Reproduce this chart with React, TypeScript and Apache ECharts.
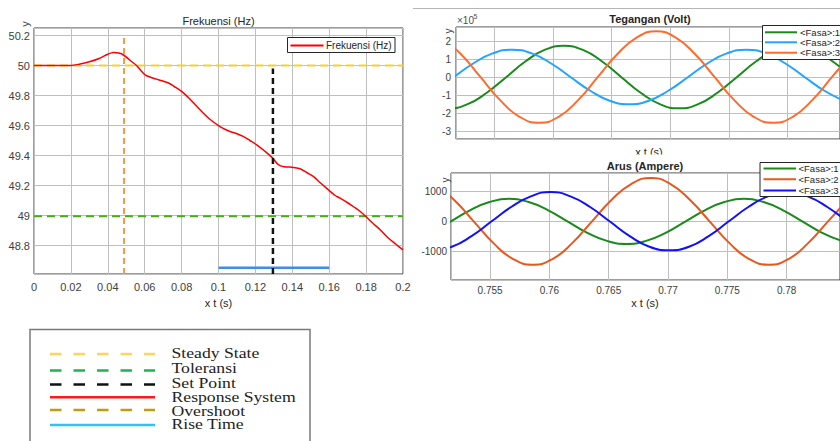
import React, { useEffect, useRef } from "react";
import * as echarts from "echarts";

// ---------- Frekuensi (Hz) ----------
const FREQ_TIME = [0, 0.01, 0.02, 0.025, 0.03, 0.035, 0.04, 0.043, 0.046, 0.0485, 0.052, 0.0556, 0.058, 0.0602, 0.0635, 0.0665, 0.0695, 0.0729, 0.076, 0.08, 0.085, 0.09, 0.095, 0.1008, 0.1062, 0.11, 0.1134, 0.117, 0.1207, 0.125, 0.1294, 0.1324, 0.1355, 0.1388, 0.1442, 0.148, 0.1514, 0.155, 0.1595, 0.163, 0.1659, 0.17, 0.173, 0.1765, 0.1794, 0.1835, 0.1876, 0.192, 0.196, 0.2];
const FREKUENSI = [50, 50, 50, 50.01, 50.025, 50.045, 50.075, 50.087, 50.083, 50.07, 50.035, 50.0, 49.965, 49.938, 49.92, 49.909, 49.898, 49.883, 49.86, 49.827, 49.77, 49.705, 49.645, 49.593, 49.56, 49.545, 49.527, 49.5, 49.471, 49.43, 49.383, 49.339, 49.325, 49.323, 49.312, 49.285, 49.261, 49.22, 49.172, 49.135, 49.116, 49.085, 49.06, 49.03, 48.998, 48.95, 48.905, 48.85, 48.81, 48.771];
const FREQ_X_RANGE = [0, 0.2];
const FREQ_Y_RANGE = [48.61, 50.25];
const STEADY_STATE = 50;
const TOLERANSI = 48.995;
const OVERSHOOT_T = 0.0488;
const OVERSHOOT_Y = [48.61, 50.2];
const SET_POINT_T = 0.1295;
const SET_POINT_Y = [48.61, 49.98];
const RISE_TIME_T = [0.1, 0.16];
const RISE_TIME_LEVEL = 48.651;

// ---------- Tegangan (Volt) ----------
const V1_T = [0.74941, 0.75105, 0.75269, 0.75433, 0.75598, 0.75762, 0.75926, 0.7609, 0.76254, 0.76418, 0.76583, 0.76747, 0.76911, 0.77075, 0.77239, 0.77403, 0.77568, 0.77732, 0.77896, 0.7806, 0.78224, 0.78388, 0.78553];
const V1 = [-149000, -172000, -149000, -86000, 0, 87000, 151000, 174000, 151000, 87000, 0, -86000, -149000, -172000, -149000, -86000, 0, 87000, 151000, 174000, 151000, 87000, 0];
const V2_T = [0.74983, 0.7515, 0.75317, 0.75483, 0.7565, 0.75817, 0.75983, 0.7615, 0.76317, 0.76483, 0.7665, 0.76817, 0.76983, 0.7715, 0.77317, 0.77483, 0.7765, 0.77817, 0.77983, 0.7815, 0.78317, 0.78483];
const V2 = [-75000, 0, 76000, 132000, 152000, 132000, 76000, 0, -75000, -130000, -150000, -130000, -75000, 0, 76000, 132000, 152000, 132000, 76000, 0, -75000, -130000];
const V3_T = [0.75047, 0.75213, 0.7538, 0.75547, 0.75713, 0.7588, 0.76047, 0.76213, 0.7638, 0.76547, 0.76713, 0.7688, 0.77047, 0.77213, 0.7738, 0.77547, 0.77713, 0.7788, 0.78047, 0.78213, 0.7838, 0.78547];
const V3 = [219000, 127000, 0, -127000, -219000, -252000, -219000, -127000, 0, 127000, 219000, 255000, 219000, 127000, 0, -127000, -219000, -252000, -219000, -127000, 0, 127000];
const V_Y_RANGE = [-342000, 278000];

// ---------- Arus (Ampere) ----------
const I1_T = [0.75, 0.75165, 0.7533, 0.75495, 0.7566, 0.75825, 0.7599, 0.76155, 0.7632, 0.76485, 0.7665, 0.76815, 0.7698, 0.77145, 0.7731, 0.77475, 0.7764, 0.77805, 0.7797, 0.78135, 0.783, 0.78465];
const I1 = [-375, 0, 375, 650, 760, 650, 375, 0, -375, -645, -745, -645, -375, 0, 375, 650, 760, 650, 375, 0, -375, -645];
const I2_T = [0.75031, 0.75197, 0.75363, 0.75528, 0.75694, 0.7586, 0.76026, 0.76192, 0.76357, 0.76523, 0.76689, 0.76855, 0.77021, 0.77186, 0.77352, 0.77518, 0.77684, 0.7785, 0.78016, 0.78181, 0.78347, 0.78513];
const I2 = [1250, 720, 0, -720, -1250, -1440, -1250, -720, 0, 720, 1250, 1456, 1250, 720, 0, -720, -1250, -1440, -1250, -720, 0, 720];
const I3_T = [0.7501, 0.75177, 0.75343, 0.7551, 0.75677, 0.75843, 0.7601, 0.76177, 0.76343, 0.7651, 0.76677, 0.76843, 0.7701, 0.77177, 0.77343, 0.7751, 0.77677, 0.77843, 0.7801, 0.78177, 0.78343, 0.7851];
const I3 = [-956, -840, -485, 0, 485, 840, 985, 840, 485, 0, -485, -840, -956, -840, -485, 0, 485, 840, 985, 840, 485, 0];
const I_Y_RANGE = [-1950, 1620];
const AC_X_RANGE = [0.7517, 0.7845];

const PHASES = ["<Fasa>:1", "<Fasa>:2", "<Fasa>:3"];
const V_COLORS = ["#1a8a1a", "#22a4ff", "#ff6b2e"];
const I_COLORS = ["#1a8a1a", "#e8581e", "#1010ff"];

const LEGEND_ITEMS = ["Steady State", "Toleransi", "Set Point", "Response System", "Overshoot", "Rise Time"];

const zip = (xs: number[], ys: number[]) => xs.map((x, i) => [x, ys[i]]);

const SANS = "Liberation Sans, Arial, sans-serif";
const SERIF = "Liberation Serif, Times New Roman, serif";
const GRIDLINE = "#bfbfbf";
const TICK_TXT = "#404040";

function buildOption() {
  const txt = (text: string, x: number, y: number, extra: any = {}, elExtra: any = {}) => ({
    type: "text",
    x,
    y,
    z: 100,
    silent: true,
    ...elExtra,
    style: { text, fontFamily: SANS, fontSize: 11, fill: "#262626", align: "center", verticalAlign: "middle", ...extra },
  });
  const line = (x1: number, y1: number, x2: number, y2: number, stroke: string, lineWidth: number, lineDash?: number[]) => ({
    type: "line",
    z: 101,
    silent: true,
    shape: { x1, y1, x2, y2 },
    style: { stroke, lineWidth, lineDash: lineDash || null },
  });
  const rect = (x: number, y: number, w: number, h: number, stroke: string, fill = "#fff", lw = 1, z = 100) => ({
    type: "rect",
    z,
    silent: true,
    shape: { x, y, width: w, height: h },
    style: { fill, stroke, lineWidth: lw },
  });

  // bottom-left legend image
  const legendStyles = [
    { c: "#ffd35c", dash: [11.5, 12], w: 2.6 },
    { c: "#1fb44f", dash: [11.5, 12], w: 2.6 },
    { c: "#111111", dash: [11.5, 12], w: 2.6 },
    { c: "#ff1a1a", dash: null, w: 2.6 },
    { c: "#c39a12", dash: [11.5, 12], w: 2.6 },
    { c: "#2fc2f2", dash: null, w: 2.6 },
  ];
  const legendLineY = [354, 370.5, 384.5, 397.3, 410, 425];
  const legendTextY = [353, 368, 382.7, 397.3, 411, 424.3];
  const bigLegend: any[] = [rect(30, 329.5, 280, 130, "#7a7a7a", "#fff", 1.5)];
  LEGEND_ITEMS.forEach((name, i) => {
    const s = legendStyles[i];
    bigLegend.push(line(50, legendLineY[i], 155, legendLineY[i], s.c, s.w, s.dash as any));
    bigLegend.push(txt(name, 171.5, legendTextY[i], { fontFamily: SERIF, fontSize: 14.5, fill: "#222", align: "left" }, { scaleX: 1.22 }));
  });

  const phaseLegend = (x: number, y: number, h: number, rows: number[], colors: string[], lx1: number, lx2: number, tx: number, fs: number) => {
    const els: any[] = [rect(x, y, 100, h, "#262626")];
    PHASES.forEach((p, i) => {
      els.push(line(lx1, rows[i], lx2, rows[i], colors[i], 2));
      els.push(txt(p, tx, rows[i], { fontSize: fs, align: "left" }));
    });
    return els;
  };

  const graphic: any[] = [
    { type: "line", silent: true, shape: { x1: 413, y1: 8.5, x2: 840, y2: 8.5 }, style: { stroke: "#b5b5b5", lineWidth: 1 } },
    txt("Frekuensi (Hz)", 218.5, 21),
    txt("x t (s)", 218.5, 302.5),
    txt("y", 24.5, 24, { fill: "#404040" }, { rotation: Math.PI / 2 }),
    rect(287.5, 37.5, 107.5, 15, "#262626"),
    line(290.5, 45.5, 323.5, 45.5, "#ff0000", 2),
    txt("Frekuensi (Hz)", 326, 45.5, { fontSize: 10, align: "left" }),
    txt("Tegangan (Volt)", 650, 19, { fontWeight: "bold" }),
    txt("×10", 457, 20.5, { fontSize: 10, fill: "#505050", align: "left" }),
    txt("5", 473.5, 16.5, { fontSize: 7, fill: "#505050", align: "left" }),
    txt("y", 448, 31, { fill: "#404040", fontSize: 10 }, { rotation: Math.PI / 2 }),
    txt("x t (s)", 649, 151.5),
    rect(415, 154.5, 425, 6, "#fff", "#fff", 0, 110),
    ...phaseLegend(762.5, 25.5, 34, [32.3, 42.3, 52.7], V_COLORS, 765, 797, 800, 9.5),
    txt("Arus (Ampere)", 645, 166, { fontWeight: "bold" }),
    txt("y", 445, 180, { fill: "#404040", fontSize: 10 }, { rotation: Math.PI / 2 }),
    txt("x t (s)", 645, 302.5),
    ...phaseLegend(760, 162.5, 34, [168.5, 179.3, 190.5], I_COLORS, 763.5, 796, 798.5, 9.5),
    ...bigLegend,
  ];

  const gridBase = { show: true, borderColor: "#3a3a3a", borderWidth: 1, backgroundColor: "#fff", containLabel: false };
  const splitLine = { show: true, lineStyle: { color: GRIDLINE, width: 1 } };

  const lineSeries = (name: string, data: any[], color: string, width: number, idx: number, extra: any = {}) => ({
    type: "line",
    name,
    data,
    xAxisIndex: idx,
    yAxisIndex: idx,
    symbol: "none",
    silent: true,
    clip: true,
    lineStyle: { color, width },
    ...extra,
  });

  return {
    animation: false,
    backgroundColor: "#fff",
    graphic,
    grid: [
      { ...gridBase, left: 34, top: 28, width: 369, height: 246 },
      { ...gridBase, left: 456, top: 27, width: 389, height: 112 },
      { ...gridBase, left: 451, top: 173, width: 389, height: 107 },
    ],
    xAxis: [
      {
        type: "value",
        gridIndex: 0,
        min: FREQ_X_RANGE[0],
        max: FREQ_X_RANGE[1],
        interval: 0.02,
        axisLine: { show: false },
        axisTick: { show: false },
        splitLine,
        axisLabel: { margin: 7, fontSize: 11, color: TICK_TXT, fontFamily: SANS },
      },
      {
        type: "value",
        gridIndex: 1,
        min: AC_X_RANGE[0],
        max: AC_X_RANGE[1],
        axisLine: { show: false },
        axisTick: { show: false },
        splitLine,
        axisLabel: { show: false },
      },
      {
        type: "value",
        gridIndex: 2,
        min: AC_X_RANGE[0],
        max: AC_X_RANGE[1],
        axisLine: { show: false },
        axisTick: { show: false },
        splitLine,
        axisLabel: { margin: 5, fontSize: 10, color: TICK_TXT, fontFamily: SANS, showMinLabel: false, showMaxLabel: false },
      },
    ],
    yAxis: [
      {
        type: "value",
        gridIndex: 0,
        min: FREQ_Y_RANGE[0],
        max: FREQ_Y_RANGE[1],
        splitNumber: 8,
        axisLine: { show: false },
        axisTick: { show: false },
        splitLine,
        axisLabel: { margin: 4, fontSize: 11, color: TICK_TXT, fontFamily: SANS, showMinLabel: false, showMaxLabel: false },
      },
      {
        type: "value",
        gridIndex: 1,
        min: V_Y_RANGE[0],
        max: V_Y_RANGE[1],
        axisLine: { show: false },
        axisTick: { show: false },
        splitLine,
        axisLabel: {
          margin: 5,
          fontSize: 10,
          color: TICK_TXT,
          fontFamily: SANS,
          showMinLabel: false,
          showMaxLabel: false,
          formatter: (v: number) => String(Math.round(v / 100000)),
        },
      },
      {
        type: "value",
        gridIndex: 2,
        min: I_Y_RANGE[0],
        max: I_Y_RANGE[1],
        axisLine: { show: false },
        axisTick: { show: false },
        splitLine,
        axisLabel: {
          margin: 4,
          fontSize: 10,
          color: TICK_TXT,
          fontFamily: SANS,
          showMinLabel: false,
          showMaxLabel: false,
          formatter: (v: number) => String(Math.round(v)),
        },
      },
    ],
    series: [
      lineSeries("Steady State", [[FREQ_X_RANGE[0], STEADY_STATE], [FREQ_X_RANGE[1], STEADY_STATE]], "#f3d22c", 2, 0, { lineStyle: { color: "#f3d22c", width: 2, type: [8, 5] }, z: 2 }),
      lineSeries("Toleransi", [[FREQ_X_RANGE[0], TOLERANSI], [FREQ_X_RANGE[1], TOLERANSI]], "#4aa91c", 2, 0, { lineStyle: { color: "#4aa91c", width: 2, type: [8, 5] }, z: 2 }),
      lineSeries("Rise Time", [[RISE_TIME_T[0], RISE_TIME_LEVEL], [RISE_TIME_T[1], RISE_TIME_LEVEL]], "#3f8fe0", 2.5, 0, { z: 2 }),
      lineSeries("Response System", zip(FREQ_TIME, FREKUENSI), "#ff0000", 1.5, 0, { smooth: 0.3, z: 3 }),
      lineSeries("Overshoot", [[OVERSHOOT_T, OVERSHOOT_Y[0]], [OVERSHOOT_T, OVERSHOOT_Y[1]]], "#f2994a", 2, 0, { lineStyle: { color: "#f2994a", width: 2, type: [6, 4] }, z: 4 }),
      lineSeries("Set Point", [[SET_POINT_T, SET_POINT_Y[0]], [SET_POINT_T, SET_POINT_Y[1]]], "#111", 2.5, 0, { lineStyle: { color: "#111", width: 2.5, type: [6, 4] }, z: 4 }),

      lineSeries("V " + PHASES[0], zip(V1_T, V1), V_COLORS[0], 2, 1, { smooth: true }),
      lineSeries("V " + PHASES[1], zip(V2_T, V2), V_COLORS[1], 2, 1, { smooth: true }),
      lineSeries("V " + PHASES[2], zip(V3_T, V3), V_COLORS[2], 2, 1, { smooth: true }),

      lineSeries("I " + PHASES[0], zip(I1_T, I1), I_COLORS[0], 2, 2, { smooth: true }),
      lineSeries("I " + PHASES[1], zip(I2_T, I2), I_COLORS[1], 2, 2, { smooth: true }),
      lineSeries("I " + PHASES[2], zip(I3_T, I3), I_COLORS[2], 2, 2, { smooth: true }),
    ],
  };
}

export default function App() {
  const ref = useRef<HTMLDivElement>(null);
  useEffect(() => {
    if (!ref.current) return;
    const chart = echarts.init(ref.current, null, { renderer: "svg" });
    chart.setOption(buildOption() as any);
    return () => chart.dispose();
  }, []);
  return (
    <div
      ref={ref}
      style={{ position: "absolute", left: 0, top: 0, width: 840, height: 441, background: "#fff" }}
    />
  );
}
